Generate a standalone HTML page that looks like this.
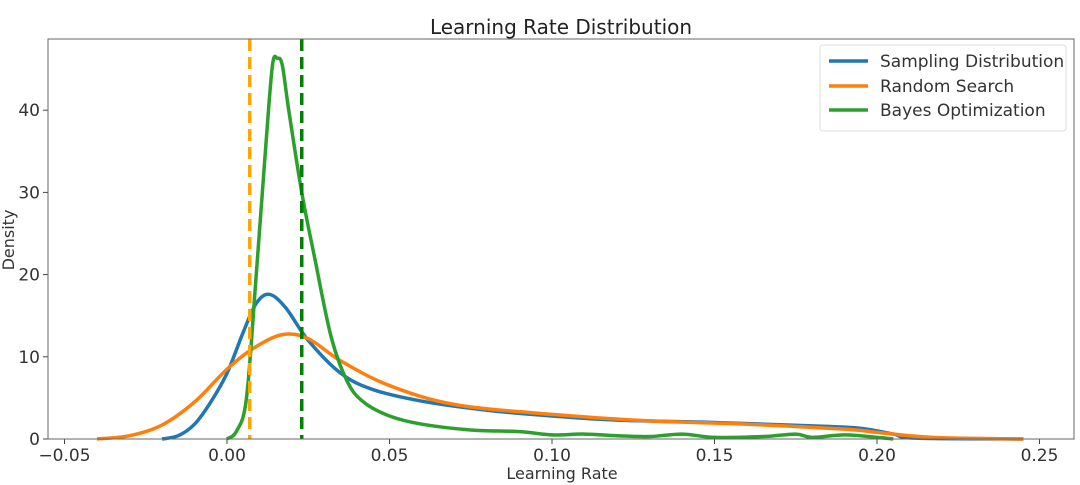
<!DOCTYPE html>
<html><head><meta charset="utf-8"><style>
body{margin:0;background:#fff;}
svg{display:block;font-family:"DejaVu Sans","Liberation Sans",sans-serif;}
</style></head><body>
<svg id="chart" width="1080" height="485">
<text x="561" y="34" font-size="20" text-anchor="middle" fill="#222">Learning Rate Distribution</text>
<text x="562" y="479" font-size="16" text-anchor="middle" fill="#333">Learning Rate</text>
<text x="14" y="240" font-size="16" text-anchor="middle" fill="#333" transform="rotate(-90 14 240)">Density</text>
<g id="grid"></g>
<g id="series"></g>
<rect x="48" y="39" width="1026" height="400" fill="none" stroke="#666" stroke-width="1"/>
<g>
<rect x="820" y="45" width="246" height="86" rx="3" fill="#fff" fill-opacity="0.85" stroke="#ddd"/>
<line x1="829" y1="61" x2="868" y2="61" stroke="#1f77b4" stroke-width="3.5"/>
<text x="880" y="67" font-size="17" fill="#333">Sampling Distribution</text>
<line x1="829" y1="86" x2="868" y2="86" stroke="#ff7f0e" stroke-width="3.5"/>
<text x="880" y="92" font-size="17" fill="#333">Random Search</text>
<line x1="829" y1="110" x2="868" y2="110" stroke="#2ca02c" stroke-width="3.5"/>
<text x="880" y="116" font-size="17" fill="#333">Bayes Optimization</text>
</g>
</svg>
<script>
const xTicks=[-0.05,0,0.05,0.10,0.15,0.20,0.25];
const xTickLabels=["\u22120.05","0.00","0.05","0.10","0.15","0.20","0.25"];
const yTicks=[0,10,20,30,40];
const yTickLabels=["0","10","20","30","40"];
const samplingX=[-0.02,-0.015,-0.01,-0.005,0,0.005,0.009,0.013,0.018,0.025,0.035,0.045,0.06,0.08,0.1,0.12,0.15,0.18,0.195,0.205,0.212,0.245];
const samplingY=[0,0.4,1.8,4.5,8,13,16.5,17.6,16,12,8,6,4.6,3.5,2.8,2.3,2,1.6,1.3,0.6,0.1,0];
const randomX=[-0.04,-0.03,-0.02,-0.01,0,0.008,0.017,0.025,0.035,0.05,0.07,0.1,0.13,0.16,0.19,0.2,0.21,0.22,0.245];
const randomY=[0,0.4,1.7,4.5,8.5,11,12.7,12.2,9.5,6.5,4.2,3,2.2,1.8,1.2,0.8,0.4,0.15,0];
const bayesX=[0,0.003,0.006,0.009,0.012,0.014,0.0155,0.017,0.019,0.023,0.027,0.032,0.037,0.042,0.05,0.06,0.075,0.09,0.1,0.11,0.12,0.13,0.14,0.15,0.165,0.175,0.18,0.19,0.2,0.205];
const bayesY=[0,1,5,20,36,45.5,46.3,45.5,40,30,22,12.5,7,4.5,2.8,1.8,1.1,0.9,0.5,0.6,0.4,0.3,0.6,0.2,0.3,0.6,0.2,0.5,0.2,0];
const randomMean=0.007, bayesMean=0.023;
const NS="http://www.w3.org/2000/svg";
const sx=v=>227+v*3250, sy=v=>439-v*8.22;
const svg=document.getElementById('chart'),grid=document.getElementById('grid'),ser=document.getElementById('series');
function mk(t,a,p){const e=document.createElementNS(NS,t);for(const k in a)e.setAttribute(k,a[k]);p.appendChild(e);return e;}
xTicks.forEach((v,i)=>{
 const l=mk('line',{x1:sx(v),x2:sx(v),y1:439,y2:444,stroke:'#444'},grid);
 
 
 const t=mk('text',{x:sx(v),y:461,'font-size':17,'text-anchor':'middle',fill:'#333'},grid);t.textContent=xTickLabels[i];
 
 
});
yTicks.forEach((v,i)=>{
 const l=mk('line',{x1:43,x2:48,y1:sy(v),y2:sy(v),stroke:'#444'},grid);
 
 
 const t=mk('text',{x:40,y:sy(v)+6,'font-size':17,'text-anchor':'end',fill:'#333'},grid);t.textContent=yTickLabels[i];
 
 
});
function path(xs,ys){const p=xs.map((x,i)=>[sx(x),sy(ys[i])]);let d='M'+p[0][0]+','+p[0][1];
 for(let i=0;i<p.length-1;i++){const p0=p[i-1]||p[i],p1=p[i],p2=p[i+1],p3=p[i+2]||p2;
  const c1=[p1[0]+(p2[0]-p0[0])/6,p1[1]+(p2[1]-p0[1])/6],c2=[p2[0]-(p3[0]-p1[0])/6,p2[1]-(p3[1]-p1[1])/6];
  d+=` C${c1[0]},${Math.min(c1[1],439)} ${c2[0]},${Math.min(c2[1],439)} ${p2[0]},${p2[1]}`;}
 return d;}
const s1=mk('path',{d:path(samplingX,samplingY),fill:'none',stroke:'#1f77b4','stroke-width':3.5},ser);


const s2=mk('path',{d:path(randomX,randomY),fill:'none',stroke:'#ff7f0e','stroke-width':3.5},ser);


const s3=mk('path',{d:path(bayesX,bayesY),fill:'none',stroke:'#2ca02c','stroke-width':3.5},ser);


const m1=mk('line',{x1:sx(randomMean),x2:sx(randomMean),y1:39,y2:439,stroke:'#ffa500','stroke-width':3.5,'stroke-dasharray':'12,6'},ser);


const m2=mk('line',{x1:sx(bayesMean),x2:sx(bayesMean),y1:39,y2:439,stroke:'#008000','stroke-width':3.5,'stroke-dasharray':'12,6'},ser);


</script>
</body></html>
